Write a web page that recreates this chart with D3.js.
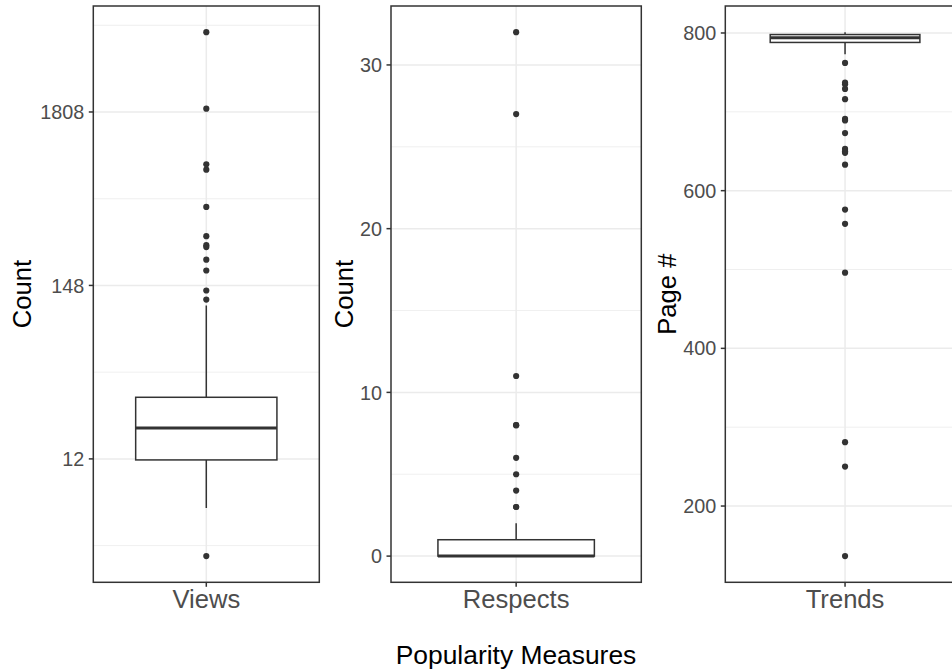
<!DOCTYPE html>
<html lang="en">
<head>
    <meta charset="UTF-8">
    <title>Popularity Measures - boxplots</title>
    <script src="https://d3js.org/d3.v7.min.js"></script>
    <style>
        body { margin: 0; background: #ffffff; }
        svg { display: block; font-family: "Liberation Sans", Arial, sans-serif; }
        .tick_label { fill: #4d4d4d; font-size: 19.8px; }
        .cat_label { fill: #4d4d4d; font-size: 25.6px; }
        .axis_title { fill: #000000; font-size: 25.6px; }
    </style>
</head>
<body>
<svg width="952" height="671"></svg>
<script>
    // categories and titles
    const categories = ["Views", "Respects", "Trends"];
    const yTitles = ["Count", "Count", "Page #"];
    const xTitle = "Popularity Measures";

    // box stats: lower whisker, Q1, median, Q3, upper whisker
    const viewsBox = [6, 12, 19, 29.6, 111];
    const viewsOutliers = [3, 121, 138, 184, 215, 258, 265, 302, 460, 787, 850, 1897, 5710];
    const viewsBreaks = [12.18, 148.41, 1808.04];
    const viewsMinor = [3.49, 42.52, 518.01, 6310.69];
    const viewsTickLabels = ["12", "148", "1808"];

    const respectsBox = [0, 0, 0, 1, 2];
    const respectsOutliers = [3, 3, 4, 5, 6, 8, 8, 11, 27, 32];
    const respectsBreaks = [0, 10, 20, 30];
    const respectsMinor = [5, 15, 25];
    const respectsTickLabels = ["0", "10", "20", "30"];

    const trendsBox = [773, 788, 794, 798, 801];
    const trendsOutliers = [136.5, 250, 281, 496, 558, 576, 633, 648, 650, 653, 673, 689, 691, 716, 729, 735, 737, 762];
    const trendsBreaks = [200, 400, 600, 800];
    const trendsMinor = [300, 500, 700];
    const trendsTickLabels = ["200", "400", "600", "800"];

    let svg = d3.select("svg");

    // panel layout (pixels)
    const panelTop = 6, panelBottom = 582.3;
    const panelLeft = [93.3, 391, 725.3];
    const panelRight = [319.3, 641.3, 964.8];
    const titleX = [22, 344, 667];

    const panels = [
        {box: viewsBox, out: viewsOutliers, breaks: viewsBreaks, minor: viewsMinor, labels: viewsTickLabels, log: true},
        {box: respectsBox, out: respectsOutliers, breaks: respectsBreaks, minor: respectsMinor, labels: respectsTickLabels, log: false},
        {box: trendsBox, out: trendsOutliers, breaks: trendsBreaks, minor: trendsMinor, labels: trendsTickLabels, log: false}
    ];

    panels.forEach(function (p, i) {
        let g = svg.append("g").attr("class", "panel");

        // y scale with 5% expansion (in transformed space)
        let all = p.out.concat(p.box);
        let y;
        if (p.log) {
            let ext = d3.extent(all).map(Math.log);
            let pad = (ext[1] - ext[0]) * 0.05;
            y = d3.scaleLog().base(Math.E)
                .domain([Math.exp(ext[0] - pad), Math.exp(ext[1] + pad)])
                .range([panelBottom, panelTop]);
        } else {
            let ext = d3.extent(all);
            let pad = (ext[1] - ext[0]) * 0.05;
            y = d3.scaleLinear()
                .domain([ext[0] - pad, ext[1] + pad])
                .range([panelBottom, panelTop]);
        }

        // discrete x: one category, expansion 0.6 each side
        let x = d3.scaleLinear().domain([0.4, 1.6]).range([panelLeft[i], panelRight[i]]);
        let cx = x(1);

        // clip for panel content
        g.append("clipPath").attr("id", "clip" + i)
            .append("rect")
            .attr("x", panelLeft[i]).attr("y", panelTop)
            .attr("width", panelRight[i] - panelLeft[i])
            .attr("height", panelBottom - panelTop);

        let inner = g.append("g").attr("clip-path", "url(#clip" + i + ")");

        // grid lines
        inner.selectAll(".minor").data(p.minor).enter().append("line")
            .attr("x1", panelLeft[i]).attr("x2", panelRight[i])
            .attr("y1", d => y(d)).attr("y2", d => y(d))
            .attr("stroke", "#ebebeb").attr("stroke-width", 0.8);
        inner.selectAll(".major").data(p.breaks).enter().append("line")
            .attr("x1", panelLeft[i]).attr("x2", panelRight[i])
            .attr("y1", d => y(d)).attr("y2", d => y(d))
            .attr("stroke", "#ebebeb").attr("stroke-width", 1.5);
        inner.append("line")
            .attr("x1", cx).attr("x2", cx)
            .attr("y1", panelTop).attr("y2", panelBottom)
            .attr("stroke", "#ebebeb").attr("stroke-width", 1.5);

        // boxplot
        let b = p.box;
        let half = (x(1.375) - x(0.625)) / 2;
        inner.append("line")
            .attr("x1", cx).attr("x2", cx)
            .attr("y1", y(b[3])).attr("y2", y(b[4]))
            .attr("stroke", "#333333").attr("stroke-width", 1.5);
        inner.append("line")
            .attr("x1", cx).attr("x2", cx)
            .attr("y1", y(b[0])).attr("y2", y(b[1]))
            .attr("stroke", "#333333").attr("stroke-width", 1.5);
        inner.append("rect")
            .attr("x", cx - half).attr("width", 2 * half)
            .attr("y", y(b[3])).attr("height", y(b[1]) - y(b[3]))
            .attr("fill", "#ffffff")
            .attr("stroke", "#333333").attr("stroke-width", 1.5);
        inner.append("line")
            .attr("x1", cx - half).attr("x2", cx + half)
            .attr("y1", y(b[2])).attr("y2", y(b[2]))
            .attr("stroke", "#333333").attr("stroke-width", 3);

        // outliers
        inner.selectAll(".pt").data(p.out).enter().append("circle")
            .attr("cx", cx).attr("cy", d => y(d))
            .attr("r", 3.1).attr("fill", "#333333");

        // panel border
        g.append("rect")
            .attr("x", panelLeft[i]).attr("y", panelTop)
            .attr("width", panelRight[i] - panelLeft[i])
            .attr("height", panelBottom - panelTop)
            .attr("fill", "none")
            .attr("stroke", "#333333").attr("stroke-width", 1.5);

        // y axis ticks and labels
        g.selectAll(".ytick").data(p.breaks).enter().append("line")
            .attr("x1", panelLeft[i] - 4.5).attr("x2", panelLeft[i])
            .attr("y1", d => y(d)).attr("y2", d => y(d))
            .attr("stroke", "#333333").attr("stroke-width", 1.5);
        g.selectAll(".ylab").data(p.breaks).enter().append("text")
            .attr("class", "tick_label")
            .attr("x", panelLeft[i] - 9)
            .attr("y", d => y(d))
            .attr("dy", "0.36em")
            .attr("text-anchor", "end")
            .text((d, k) => p.labels[k]);

        // x axis tick and category label
        g.append("line")
            .attr("x1", cx).attr("x2", cx)
            .attr("y1", panelBottom).attr("y2", panelBottom + 4.5)
            .attr("stroke", "#333333").attr("stroke-width", 1.5);
        g.append("text")
            .attr("class", "cat_label")
            .attr("x", cx).attr("y", 607.7)
            .attr("text-anchor", "middle")
            .text(categories[i]);

        // y title
        g.append("text")
            .attr("class", "axis_title")
            .attr("transform", "translate(" + (titleX[i] + 9) + "," + ((panelTop + panelBottom) / 2) + ") rotate(-90)")
            .attr("text-anchor", "middle")
            .text(yTitles[i]);
    });

    // shared x title
    svg.append("text")
        .attr("class", "axis_title")
        .attr("x", 516).attr("y", 663.5)
        .attr("text-anchor", "middle")
        .style("font-size", "26.4px")
        .text(xTitle);
</script>
</body>
</html>
